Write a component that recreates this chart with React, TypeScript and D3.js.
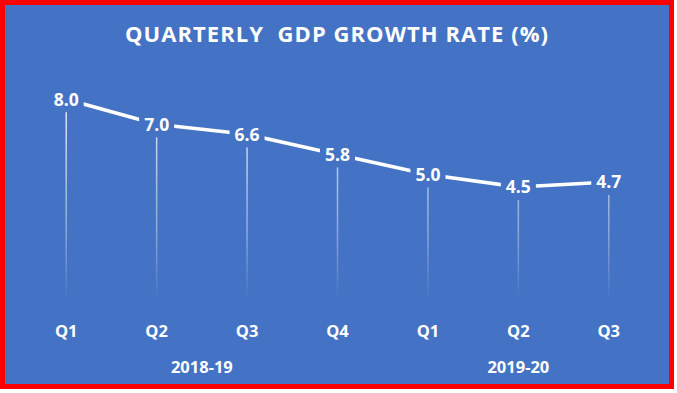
import {useEffect, useRef} from 'react';
import * as d3 from 'd3';

const [W, H] = [677, 393];

const quarters = ['Q1', 'Q2', 'Q3', 'Q4', 'Q1', 'Q2', 'Q3'];
const growth = [8.0, 7.0, 6.6, 5.8, 5.0, 4.5, 4.7];
const years = ['2018-19', '2019-20'];
const yearFirst = [0, 4];
const yearLast = [3, 6];
const title = 'QUARTERLY  GDP GROWTH RATE (%)';

const BLUE = '#4472C4';
const FONT = '"Open Sans", "Noto Sans", sans-serif';

function App() {
    const svgRef = useRef<SVGSVGElement>(null);

    useEffect(() => {
        if (!svgRef.current) return;
        const svg = d3.select(svgRef.current);
        svg.selectAll('*').remove();

        const x = d3.scaleBand<number>().domain(d3.range(quarters.length)).range([21, 654]);
        const y = d3.scaleLinear().domain([0, 10]).range([300, 49]);
        const cx = (i: number) => (x(i) as number) + x.bandwidth() / 2;

        // frame + background
        svg.append('rect')
            .attr('x', 2.5).attr('y', 2.5)
            .attr('width', 669).attr('height', 384)
            .attr('fill', BLUE)
            .attr('stroke', '#FF0000')
            .attr('stroke-width', 5);

        const defs = svg.append('defs');
        const grad = defs.append('linearGradient')
            .attr('id', 'dropFade')
            .attr('gradientUnits', 'userSpaceOnUse')
            .attr('x1', 0).attr('x2', 0)
            .attr('y1', 100).attr('y2', y(0));
        grad.append('stop').attr('offset', 0).attr('stop-color', '#fff').attr('stop-opacity', 0.85);
        grad.append('stop').attr('offset', 0.7).attr('stop-color', '#fff').attr('stop-opacity', 0.35);
        grad.append('stop').attr('offset', 1).attr('stop-color', '#fff').attr('stop-opacity', 0);

        svg.append('text')
            .attr('x', 336.5).attr('y', 42)
            .attr('text-anchor', 'middle')
            .attr('textLength', 423)
            .attr('lengthAdjust', 'spacing')
            .style('white-space', 'pre')
            .style('font-family', FONT)
            .style('font-weight', 700)
            .style('font-size', '22px')
            .style('fill', '#fff')
            .text(title);

        // drop lines
        svg.append('g').selectAll('rect')
            .data(growth)
            .join('rect')
            .attr('x', (d, i) => cx(i) - 0.75)
            .attr('y', d => y(d))
            .attr('width', 1.5)
            .attr('height', d => y(0) - y(d))
            .attr('fill', 'url(#dropFade)');

        const line = d3.line<number>()
            .x((d, i) => cx(i))
            .y(d => y(d));

        svg.append('path')
            .datum(growth)
            .attr('d', line)
            .attr('fill', 'none')
            .attr('stroke', '#fff')
            .attr('stroke-width', 3.5)
            .attr('stroke-linejoin', 'round');

        // data labels with blue boxes
        const labels = svg.append('g').selectAll('g')
            .data(growth)
            .join('g')
            .attr('transform', (d, i) => `translate(${cx(i)},${y(d)})`);
        const rects = labels.append('rect').attr('fill', BLUE);
        const texts = labels.append('text')
            .attr('text-anchor', 'middle')
            .attr('dy', '0.36em')
            .style('font-family', FONT)
            .style('font-weight', 700)
            .style('font-size', '17.5px')
            .style('fill', '#fff')
            .text(d => d3.format('.1f')(d));
        texts.each(function (d, i) {
            const w = (this as SVGTextElement).getComputedTextLength();
            d3.select(rects.nodes()[i])
                .attr('x', -w / 2 - 5)
                .attr('y', -13)
                .attr('width', w + 10)
                .attr('height', 26);
        });

        svg.append('g').selectAll('text')
            .data(quarters)
            .join('text')
            .attr('x', (d, i) => cx(i))
            .attr('y', 337)
            .attr('text-anchor', 'middle')
            .style('font-family', FONT)
            .style('font-weight', 700)
            .style('font-size', '16.5px')
            .style('fill', '#fff')
            .text(d => d);

        svg.append('g').selectAll('text')
            .data(years)
            .join('text')
            .attr('x', (d, i) => (cx(yearFirst[i]) + cx(yearLast[i])) / 2)
            .attr('y', 373)
            .attr('text-anchor', 'middle')
            .style('font-family', FONT)
            .style('font-weight', 700)
            .style('font-size', '16.5px')
            .style('fill', '#fff')
            .text(d => d);
    }, []);

    return (
        <svg ref={svgRef} width={W} height={H}
             style={{position: 'absolute', left: 0, top: 0, display: 'block'}} />
    );
}

export default App;
